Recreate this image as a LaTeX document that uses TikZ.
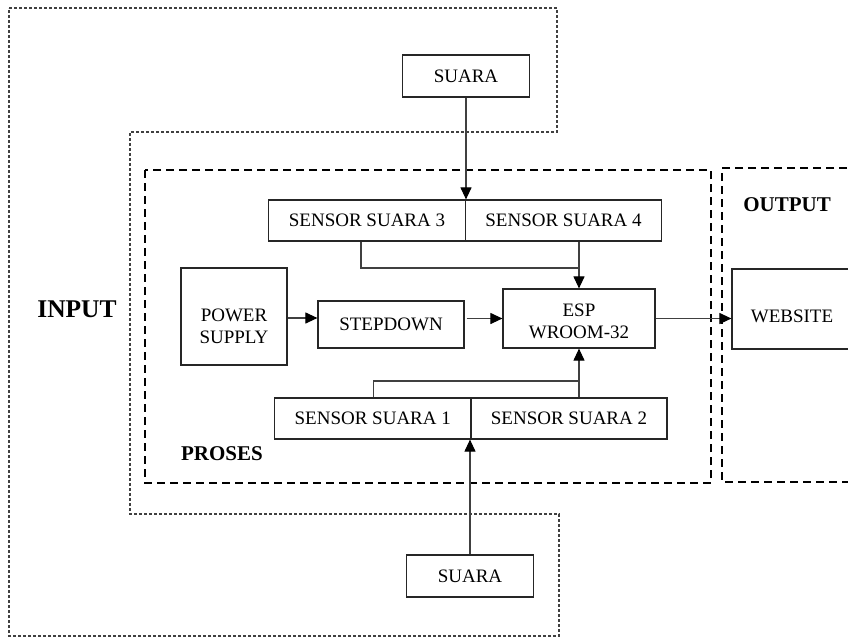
\documentclass[tikz,border=0pt]{standalone}
\usepackage{fontspec}
\setmainfont{Liberation Serif}
\usetikzlibrary{arrows.meta}
\begin{document}
\begin{tikzpicture}[x=1pt,y=-1pt,
  blk/.style={draw=black!85,line width=1.2pt,inner sep=0pt,align=center,
    font=\fontsize{19}{22}\selectfont,text=black},
  txt/.style={inner sep=0pt,align=center,font=\fontsize{19}{22}\selectfont,text=black},
  conn/.style={draw=black!75,line width=1.1pt},
  arr/.style={conn,-{Triangle[length=12pt,width=11pt,color=black]}},
  proc/.style={draw=black,line width=1.7pt,dash pattern=on 8pt off 5pt},
  inp/.style={draw=black!75,line width=1.2pt,dash pattern=on 3pt off 2pt},
  lbl/.style={font=\bfseries\fontsize{21}{24}\selectfont,inner sep=0pt}]
\useasboundingbox (0,0) rectangle (848,638);
% containers
\draw[inp] (9,8) -- (557,8) -- (557,132) -- (130,132) -- (130,514) -- (559,514) -- (559,636) -- (9,636) -- cycle;
\draw[proc] (145,170) rectangle (711,483);
\draw[proc] (860,168) -- (722,168) -- (722,482) -- (860,482);
% labels
\node[lbl,font=\bfseries\fontsize{25.5}{28}\selectfont] (input) at (77,309) {INPUT};
\node[lbl] (proses) at (222,454) {PROSES};
\node[lbl] (output) at (787,205) {OUTPUT};
% blocks
\node[blk,minimum width=127pt,minimum height=42pt] (suaraT) at (466,76) {SUARA};
\node[blk,minimum width=197pt,minimum height=41pt] (s3) at (367,220.5) {SENSOR SUARA 3};
\node[blk,minimum width=196pt,minimum height=41pt] (s4) at (563.5,220.5) {SENSOR SUARA 4};
\node[blk,minimum width=106pt,minimum height=97pt] (power) at (234,316.5) {};
\node[txt] (powertxt) at (234,326) {POWER\\SUPPLY};
\node[blk,minimum width=146pt,minimum height=47pt] (step) at (391,324.5) {STEPDOWN};
\node[blk,minimum width=152pt,minimum height=59pt] (esp) at (579,318.5) {};
\node[txt] (esptxt) at (579,321) {ESP\\WROOM-32};
\node[blk,minimum width=120pt,minimum height=80pt] (web) at (792,309) {};
\node[txt] (webtxt) at (792,316) {WEBSITE};
\node[blk,minimum width=196.5pt,minimum height=41pt] (s1) at (372.75,418.5) {SENSOR SUARA 1};
\node[blk,minimum width=196pt,minimum height=41pt] (s2) at (569,418.5) {SENSOR SUARA 2};
\node[blk,minimum width=127pt,minimum height=42pt] (suaraB) at (470,576) {SUARA};
% connectors
\coordinate (j3) at (579,268);
\coordinate (j1) at (579,381);
\draw[arr] (suaraT.south) -- (suaraT.south |- s3.north);
\draw[conn] ([xshift=-6pt]s3.south) |- (j3);
\draw[arr] (s4.south -| esp.north) -- (esp.north);
\draw[conn] ([xshift=1pt]s1.north) |- (j1);
\draw[arr] (s2.north -| esp.south) -- (esp.south);
\draw[arr] (suaraB.north) -- (suaraB.north |- s1.south);
\draw[arr] (power.east |- 0,318) -- (step.west |- 0,318);
\draw[arr] ([xshift=2pt]step.east |- esp.west) -- (esp.west);
\draw[arr] (esp.east) -- (esp.east -| web.west);
\end{tikzpicture}
\end{document}
